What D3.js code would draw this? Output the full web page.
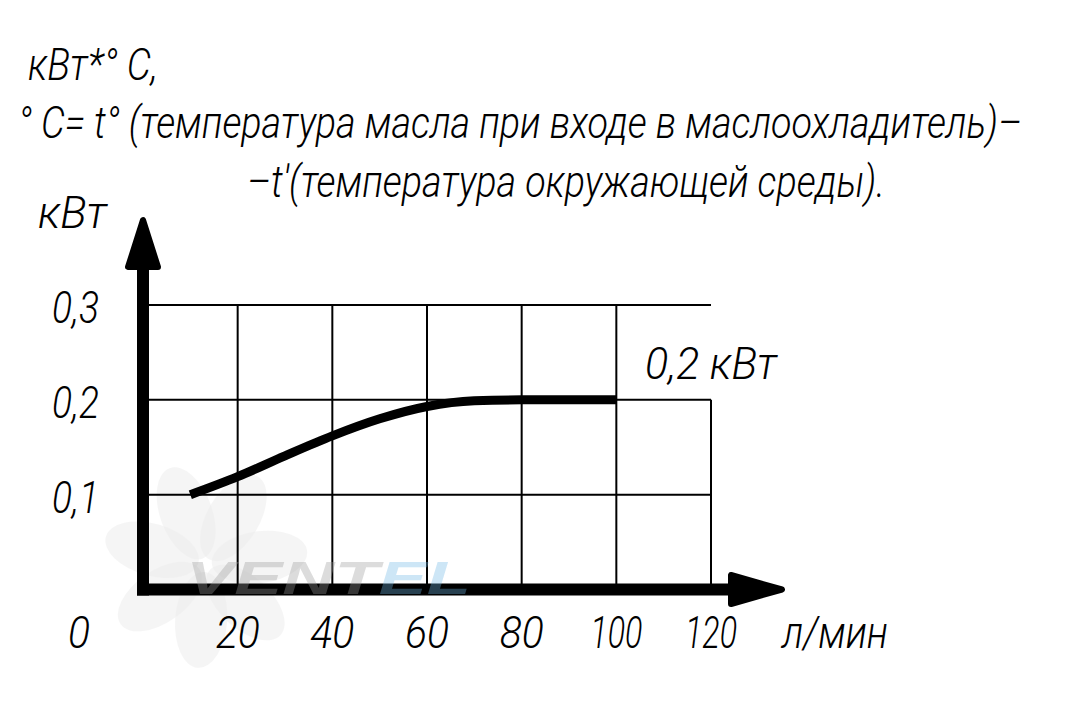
<!DOCTYPE html>
<html><head><meta charset="utf-8">
<script src="https://cdn.jsdelivr.net/npm/d3@7"></script>
<style>html,body{margin:0;padding:0;background:#fff;} svg{display:block;}</style>
</head><body>
<script>
// ---- data ----
const flow = [10, 20, 30, 40, 50, 60, 70, 80, 90, 100];
const power = [0.100, 0.119, 0.141, 0.162, 0.180, 0.193, 0.199, 0.200, 0.200, 0.200];
const xTicks = [20, 40, 60, 80, 100, 120];
const xTickLabels = ["20", "40", "60", "80", "100", "120"];
const yTicks = [0.1, 0.2, 0.3];
const yTickLabels = ["0,1", "0,2", "0,3"];
const headerLines = [
  "кВт*° С,",
  "° С= t° (температура масла при входе в маслоохладитель)–",
  "–t'(температура окружающей среды)."
];
const yUnit = "кВт";
const xUnit = "л/мин";
const originLabel = "0";
const annotation = "0,2 кВт";
const annotationValue = 0.2;

// ---- layout ----
const W = 1079, H = 723;
const svg = d3.select("body").append("svg").attr("width", W).attr("height", H);
const x = d3.scaleLinear().domain([0, 120]).range([143, 711]);
const y = d3.scaleLinear().domain([0, 0.3]).range([589.5, 305]);
const font = "Roboto, 'DejaVu Sans', sans-serif";
const FS = 45;

// text drawn at natural size then squeezed horizontally to the target width
function txt(s, x0, base, len, anchor) {
  const g = svg.append("g");
  const t = g.append("text").attr("x", 0).attr("y", 0).text(s)
    .attr("font-family", font).attr("font-weight", 300).attr("font-style", "italic")
    .attr("font-size", FS).attr("fill", "#000");
  const w = t.node().getComputedTextLength();
  const k = len / w;
  const left = anchor === "middle" ? x0 - len / 2 : x0;
  g.attr("transform", `translate(${left},${base}) scale(${k},1)`);
  return t;
}

// watermark fan (faint)
const wm = svg.append("g").attr("opacity", 0.5);
const fc = [205, 565];
d3.range(7).forEach(i => {
  wm.append("ellipse").attr("cx", fc[0]).attr("cy", fc[1] - 55).attr("rx", 26).attr("ry", 48)
    .attr("fill", "#dcdcdc").attr("opacity", 0.55)
    .attr("transform", `rotate(${i * 51 - 20},${fc[0]},${fc[1]})`);
});

// grid
const grid = svg.append("g").attr("stroke", "#000").attr("stroke-width", 2);
yTicks.forEach(v => {
  grid.append("line").attr("x1", x(0)).attr("x2", x(120)).attr("y1", y(v)).attr("y2", y(v));
});
xTicks.forEach(v => {
  const top = v === 120 ? 0.2 : 0.3;
  grid.append("line").attr("x1", x(v)).attr("x2", x(v)).attr("y1", y(0)).attr("y2", y(top));
});

// curve
svg.append("path")
  .datum(flow.map((f, i) => [f, power[i]]))
  .attr("d", d3.line().x(d => x(d[0])).y(d => y(d[1])).curve(d3.curveMonotoneX))
  .attr("fill", "none").attr("stroke", "#000").attr("stroke-width", 9).attr("stroke-linecap", "butt");

// axes
const ax = svg.append("g");
ax.append("line").attr("x1", x(0)).attr("x2", x(0)).attr("y1", y(0) + 6).attr("y2", 266)
  .attr("stroke", "#000").attr("stroke-width", 12);
ax.append("path").attr("d", `M${x(0)},220 L${x(0) - 15},267 L${x(0) + 15},267 Z`)
  .attr("fill", "#000").attr("stroke", "#000").attr("stroke-width", 6).attr("stroke-linejoin", "round");
ax.append("line").attr("x1", x(0) - 6).attr("x2", 732).attr("y1", y(0)).attr("y2", y(0))
  .attr("stroke", "#000").attr("stroke-width", 12);
ax.append("path").attr("d", `M782,${y(0)} L731,${y(0) - 14.5} L731,${y(0) + 14.5} Z`)
  .attr("fill", "#000").attr("stroke", "#000").attr("stroke-width", 6).attr("stroke-linejoin", "round");

// watermark text
const wt = svg.append("text").attr("x", 186).attr("y", 594)
  .attr("font-family", "'Liberation Sans', Arial, sans-serif").attr("font-weight", 700)
  .attr("font-style", "italic").attr("font-size", 46)
  .attr("textLength", 285).attr("lengthAdjust", "spacingAndGlyphs");
wt.append("tspan").text("VENT").attr("fill", "#9a9a9a").attr("fill-opacity", 0.35);
wt.append("tspan").text("EL").attr("fill", "#6fb6e6").attr("fill-opacity", 0.35);

// header text
txt(headerLines[0], 28, 80, 130);
txt(headerLines[1], 18, 138, 1004);
txt(headerLines[2], 247, 197, 638);
txt(yUnit, 38, 228, 69);

// y tick labels
yTicks.forEach((v, i) => txt(yTickLabels[i], 52, y(v) + 18, 47));
// origin label
txt(originLabel, 68, 648, 22);
// x tick labels
xTicks.forEach((v, i) => txt(xTickLabels[i], x(v), 648, xTickLabels[i].length === 3 ? 52 : 44, "middle"));
txt(xUnit, 782, 648, 106);
// annotation
txt(annotation, 645, y(annotationValue) - 21, 132);
</script>
</body></html>
